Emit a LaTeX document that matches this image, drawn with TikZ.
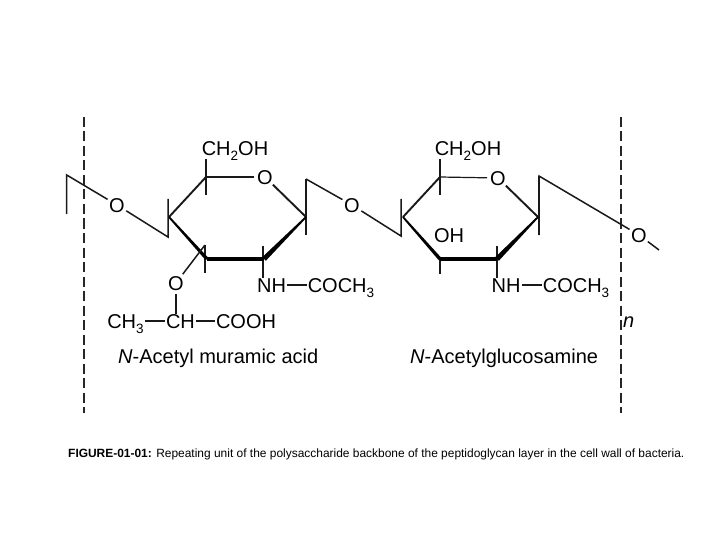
\documentclass[tikz,border=0pt]{standalone}
\usepackage{fontspec}
\usetikzlibrary{calc}
\setmainfont{Liberation Sans}
\newcommand{\subs}[1]{\raisebox{-0.28em}{\fontsize{13.5}{13.5}\selectfont #1}}
\tikzset{
  chem/.style={inner xsep=1pt,inner ysep=0pt,text height=14.3pt,text depth=0pt,font=\fontsize{20}{20}\selectfont},
  oxy/.style={chem,circle,inner sep=0.2pt},
  bond/.style={line width=1.5pt,draw=black!90},
  thinbond/.style={line width=1.2pt,draw=black!90},
  ringbond/.style={line width=1.9pt,draw=black!90},
  dashline/.style={line width=1.2pt,draw=black!85,dash pattern=on 10pt off 4.5pt},
  label/.style={inner sep=0pt,font=\fontsize{20}{20}\selectfont},
  caption/.style={inner sep=0pt,font=\fontsize{11.95}{12}\selectfont}
}
\begin{document}
\begin{tikzpicture}[x=1pt,y=-1pt]
\useasboundingbox (0,0) rectangle (720,540);
\fill[white] (0,0) rectangle (720,540);
% dashed frame
\coordinate (d1a) at (84,117); \coordinate (d1b) at (84,413);
\coordinate (d2a) at (621,117); \coordinate (d2b) at (621,413);
\draw[dashline] (d1a) -- (d1b);
\draw[dashline] (d2a) -- (d2b);
% ring 1 atoms
\coordinate (a1) at (169,217);
\coordinate (a2) at (206,177);
\coordinate (a3) at (306,217);
\coordinate (a4) at (264,259);
\coordinate (a5) at (207,259);
\node[oxy] (ao) at (265,177) {O};
% ring 2 atoms
\coordinate (b1) at (403,217);
\coordinate (b2) at (440,177);
\coordinate (b3) at (538,217);
\coordinate (b4) at (497,259);
\coordinate (b5) at (440,259);
\node[oxy] (bo) at (498,178) {O};
% linking oxygens
\node[oxy] (o1) at (117,205) {O};
\node[oxy] (o2) at (352,205) {O};
\node[oxy] (o3) at (639,235) {O};
% substituent texts
\node[chem] (ach) at (235,148) {CH\subs{2}OH};
\node[chem] (bch) at (468,148) {CH\subs{2}OH};
\node[chem] (bh) at (449,235) {OH};
\node[chem] (nh1) at (271.5,285) {NH};
\node[chem] (co1) at (341,285) {COCH\subs{3}};
\node[chem] (nh2) at (506,285) {NH};
\node[chem] (co2) at (576,285) {COCH\subs{3}};
\node[oxy] (om) at (176,283) {O};
\node[chem] (ch3) at (125.5,321) {CH\subs{3}};
\node[chem] (chm) at (180.5,321) {CH};
\node[chem] (cooh) at (246,321) {COOH};
% ends of the chain and of the vertical ticks
\coordinate (l1) at (66.7,175); \coordinate (l2) at (66.7,214);
\coordinate (l3) at (168,237); \coordinate (l4) at (168,199);
\coordinate (t0) at (206,159); \coordinate (t1) at (206,195);
\coordinate (t2) at (306,179); \coordinate (t3) at (306,235);
\coordinate (t4) at (263,246);
\coordinate (t5) at (205,245); \coordinate (t6) at (205,273);
\coordinate (r1) at (401,236); \coordinate (r2) at (401,199);
\coordinate (r0) at (440,159); \coordinate (r3) at (440,195);
\coordinate (r4) at (539,176); \coordinate (r5) at (539,235);
\coordinate (r6) at (497,246);
\coordinate (r7) at (440,259); \coordinate (r8) at (440,274);
\coordinate (e1) at (659,250);
% chain
\draw[bond] (l2) -- (l1) -- (o1) -- (l3) -- (l4);
\draw[bond] (t2) -- (o2) -- (r1) -- (r2);
\draw[bond] (r5) -- (r4) -- (o3) -- (e1);
% ring 1
\draw[ringbond] (a1) -- (a2);
\draw[thinbond] (a2) -- (ao);
\draw[ringbond] (ao) -- (a3);
\draw[bond] (t0) -- (t1);
\draw[bond] (t2) -- (t3);
\draw[bond] (t4) -- (nh1.north -| t4);
\draw[bond] (t5) -- (t6);
\fill ($(a1)+(0.67,-0.6)$) -- ($(a5)+(1.3,-1.2)$) -- ($(a5)+(-1.3,1.2)$) -- ($(a1)+(-0.67,0.6)$) -- cycle;
\fill (207,256.7) rectangle (264,261.3);
\fill ($(a3)+(0.6,0.6)$) -- ($(a4)+(1.8,1.8)$) -- ($(a4)+(-1.8,-1.8)$) -- ($(a3)+(-0.6,-0.6)$) -- cycle;
% ring 2
\draw[ringbond] (b1) -- (b2);
\draw[thinbond] (b2) -- (bo);
\draw[ringbond] (bo) -- (b3);
\draw[bond] (r0) -- (r3);
\draw[bond] (r4) -- (r5);
\draw[bond] (r6) -- (nh2.north -| r6);
\draw[bond] (r7) -- (r8);
\fill ($(b1)+(0.67,-0.6)$) -- ($(b5)+(1.3,-1.2)$) -- ($(b5)+(-1.3,1.2)$) -- ($(b1)+(-0.67,0.6)$) -- cycle;
\fill (440,256.7) rectangle (497,261.3);
\fill ($(b3)+(0.6,0.6)$) -- ($(b4)+(1.8,1.8)$) -- ($(b4)+(-1.8,-1.8)$) -- ($(b3)+(-0.6,-0.6)$) -- cycle;
% substituent bonds
\draw[bond] (t5) -- (om);
\draw[bond] (om) -- (chm.north -| om);
\draw[thinbond] (nh1) -- (co1);
\draw[thinbond] (nh2) -- (co2);
\draw[thinbond] (ch3) -- (chm);
\draw[thinbond] (chm) -- (cooh);
% labels
\node[label,anchor=base west] (nm) at (118,363.5) {\textit{N}-Acetyl muramic acid};
\node[label,anchor=base west] (ng) at (410,363.5) {\textit{N}-Acetylglucosamine};
\node[label,anchor=base west] (n) at (623,327) {\textit{n}};
\node[caption,anchor=base west] (cap) at (68,457) {\textbf{FIGURE-01-01:} Repeating unit of the polysaccharide backbone of the peptidoglycan layer in the cell wall of bacteria.};
\end{tikzpicture}
\end{document}
